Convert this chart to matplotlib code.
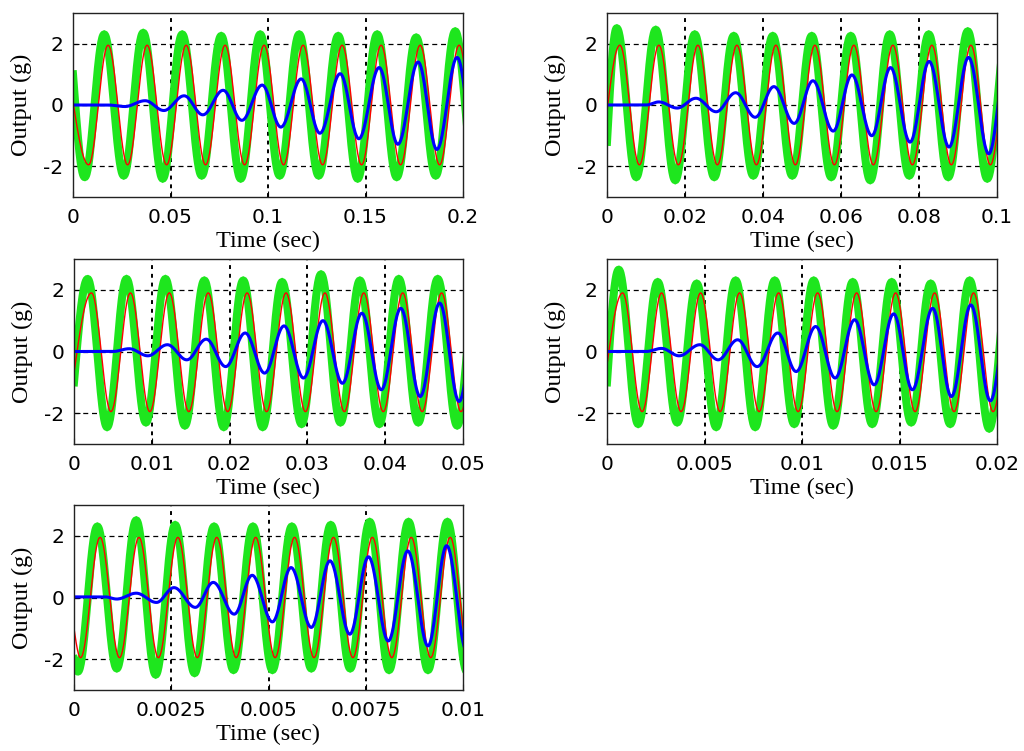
import numpy as np
import matplotlib.pyplot as plt

# window length of each panel (sec); each window holds ten periods
XMAX = [0.2, 0.1, 0.05, 0.02, 0.01]
XTICKS = [
    [0, 0.05, 0.1, 0.15, 0.2],
    [0, 0.02, 0.04, 0.06, 0.08, 0.1],
    [0, 0.01, 0.02, 0.03, 0.04, 0.05],
    [0, 0.005, 0.01, 0.015, 0.02],
    [0, 0.0025, 0.005, 0.0075, 0.01],
]
XTICKLABELS = [
    ['0', '0.05', '0.1', '0.15', '0.2'],
    ['0', '0.02', '0.04', '0.06', '0.08', '0.1'],
    ['0', '0.01', '0.02', '0.03', '0.04', '0.05'],
    ['0', '0.005', '0.01', '0.015', '0.02'],
    ['0', '0.0025', '0.005', '0.0075', '0.01'],
]
YTICKS = [-2, 0, 2]

# extrema of each trace, time in periods (window = 10 periods), value in g
RED1_T = [0, 0.4, 0.9, 1.4, 1.9, 2.4, 2.9, 3.4, 3.9, 4.4, 4.9, 5.4, 5.9, 6.4, 6.9, 7.4, 7.9, 8.4, 8.9, 9.4, 9.9, 10.4]
RED1_V = [0.1, -1.95, 1.95, -1.95, 1.95, -1.95, 1.95, -1.95, 1.95, -1.95, 1.95, -1.95, 1.95, -1.95, 1.95, -1.95, 1.95, -1.95, 1.95, -1.95, 1.95, -1.95]
GREEN1_T = [0, 0.3, 0.8, 1.3, 1.8, 2.3, 2.8, 3.3, 3.8, 4.3, 4.8, 5.3, 5.8, 6.3, 6.8, 7.3, 7.8, 8.3, 8.8, 9.3, 9.8, 10.3]
GREEN1_V = [1.0, -2.35, 2.3, -2.3, 2.35, -2.4, 2.3, -2.3, 2.25, -2.4, 2.3, -2.3, 2.3, -2.3, 2.25, -2.4, 2.3, -2.35, 2.2, -2.3, 2.4, -2.3]
BLUE1_T = [0, 0.9, 1.33, 1.85, 2.33, 2.85, 3.33, 3.85, 4.33, 4.85, 5.33, 5.85, 6.33, 6.85, 7.33, 7.85, 8.33, 8.85, 9.33, 9.85, 10.33]
BLUE1_V = [0, 0, -0.05, 0.14, -0.18, 0.3, -0.32, 0.48, -0.5, 0.65, -0.72, 0.85, -0.92, 1.02, -1.1, 1.22, -1.28, 1.4, -1.45, 1.55, -1.6]

RED2_T = [0, 0.33, 0.83, 1.33, 1.83, 2.33, 2.83, 3.33, 3.83, 4.33, 4.83, 5.33, 5.83, 6.33, 6.83, 7.33, 7.83, 8.33, 8.83, 9.33, 9.83, 10.33]
RED2_V = [-0.2, 1.95, -1.95, 1.95, -1.95, 1.95, -1.95, 1.95, -1.95, 1.95, -1.95, 1.95, -1.95, 1.95, -1.95, 1.95, -1.95, 1.95, -1.95, 1.95, -1.95, 1.95]
GREEN2_T = [0, 0.25, 0.75, 1.25, 1.75, 2.25, 2.75, 3.25, 3.75, 4.25, 4.75, 5.25, 5.75, 6.25, 6.75, 7.25, 7.75, 8.25, 8.75, 9.25, 9.75, 10.25]
GREEN2_V = [-1.2, 2.5, -2.35, 2.45, -2.45, 2.3, -2.35, 2.25, -2.3, 2.25, -2.3, 2.25, -2.35, 2.25, -2.45, 2.3, -2.3, 2.3, -2.35, 2.4, -2.4, 2.3]
BLUE2_T = [0, 1.0, 1.33, 1.8, 2.28, 2.8, 3.3, 3.8, 4.28, 4.8, 5.28, 5.8, 6.28, 6.79, 7.27, 7.77, 8.26, 8.77, 9.27, 9.79, 10.27]
BLUE2_V = [0, 0, 0.1, -0.1, 0.22, -0.22, 0.4, -0.4, 0.6, -0.6, 0.79, -0.85, 0.98, -1.0, 1.22, -1.21, 1.42, -1.37, 1.55, -1.59, 1.7]

RED3_T = [0, 0.45, 0.95, 1.45, 1.95, 2.45, 2.95, 3.45, 3.95, 4.45, 4.95, 5.45, 5.95, 6.45, 6.95, 7.45, 7.95, 8.45, 8.95, 9.45, 9.95, 10.45]
RED3_V = [-0.7, 1.9, -1.95, 1.9, -1.95, 1.9, -1.95, 1.9, -1.95, 1.9, -1.95, 1.9, -1.95, 1.9, -1.95, 1.9, -1.95, 1.9, -1.95, 1.9, -1.95, 1.9]
GREEN3_T = [0, 0.35, 0.85, 1.35, 1.85, 2.35, 2.85, 3.35, 3.85, 4.35, 4.85, 5.35, 5.85, 6.35, 6.85, 7.35, 7.85, 8.35, 8.85, 9.35, 9.85, 10.35]
GREEN3_V = [-1.0, 2.35, -2.45, 2.35, -2.3, 2.35, -2.4, 2.3, -2.45, 2.3, -2.45, 2.25, -2.35, 2.5, -2.3, 2.3, -2.35, 2.35, -2.3, 2.35, -2.4, 2.3]
BLUE3_T = [0, 1.0, 1.42, 1.9, 2.4, 2.9, 3.4, 3.9, 4.4, 4.9, 5.4, 5.9, 6.4, 6.9, 7.4, 7.9, 8.4, 8.9, 9.4, 9.9, 10.4]
BLUE3_V = [0, 0, 0.09, -0.14, 0.22, -0.27, 0.4, -0.49, 0.6, -0.7, 0.83, -0.86, 1.0, -1.03, 1.24, -1.24, 1.4, -1.46, 1.57, -1.62, 1.7]

RED4_T = [0, 0.4, 0.9, 1.4, 1.9, 2.4, 2.9, 3.4, 3.9, 4.4, 4.9, 5.4, 5.9, 6.4, 6.9, 7.4, 7.9, 8.4, 8.9, 9.4, 9.9, 10.4]
RED4_V = [-0.43, 1.9, -1.95, 1.9, -1.95, 1.9, -1.95, 1.9, -1.95, 1.9, -1.95, 1.9, -1.95, 1.9, -1.95, 1.9, -1.95, 1.9, -1.95, 1.9, -1.95, 1.9]
GREEN4_T = [0, 0.3, 0.8, 1.3, 1.8, 2.3, 2.8, 3.3, 3.8, 4.3, 4.8, 5.3, 5.8, 6.3, 6.8, 7.3, 7.8, 8.3, 8.8, 9.3, 9.8, 10.3]
GREEN4_V = [-1.0, 2.65, -2.35, 2.25, -2.3, 2.2, -2.45, 2.3, -2.45, 2.3, -2.35, 2.3, -2.4, 2.25, -2.35, 2.25, -2.3, 2.2, -2.35, 2.3, -2.5, 2.3]
BLUE4_T = [0, 1.0, 1.4, 1.85, 2.38, 2.85, 3.35, 3.85, 4.38, 4.85, 5.35, 5.85, 6.35, 6.85, 7.35, 7.83, 8.35, 8.83, 9.33, 9.83, 10.33]
BLUE4_V = [0, 0, 0.1, -0.14, 0.22, -0.27, 0.38, -0.49, 0.6, -0.65, 0.81, -0.86, 1.03, -1.08, 1.22, -1.24, 1.4, -1.46, 1.51, -1.6, 1.7]

RED5_T = [0, 0.17, 0.67, 1.17, 1.67, 2.17, 2.67, 3.17, 3.67, 4.17, 4.67, 5.17, 5.67, 6.17, 6.67, 7.17, 7.67, 8.17, 8.67, 9.17, 9.67, 10.17]
RED5_V = [-1.0, -1.95, 1.95, -1.95, 1.95, -1.95, 1.95, -1.95, 1.95, -1.95, 1.95, -1.95, 1.95, -1.95, 1.95, -1.95, 1.95, -1.95, 1.95, -1.95, 1.95, -1.95]
GREEN5_T = [0, 0.1, 0.6, 1.1, 1.6, 2.1, 2.6, 3.1, 3.6, 4.1, 4.6, 5.1, 5.6, 6.1, 6.6, 7.1, 7.6, 8.1, 8.6, 9.1, 9.6, 10.1]
GREEN5_V = [-2.0, -2.4, 2.3, -2.3, 2.5, -2.5, 2.35, -2.45, 2.3, -2.35, 2.3, -2.35, 2.3, -2.3, 2.35, -2.3, 2.45, -2.35, 2.45, -2.35, 2.45, -2.4]
BLUE5_T = [0, 0.8, 1.1, 1.6, 2.12, 2.57, 3.12, 3.58, 4.12, 4.58, 5.1, 5.58, 6.1, 6.58, 7.09, 7.57, 8.08, 8.58, 9.1, 9.58, 10.1]
BLUE5_V = [0.02, 0.02, -0.05, 0.14, -0.16, 0.32, -0.32, 0.49, -0.54, 0.72, -0.79, 0.97, -0.97, 1.19, -1.19, 1.32, -1.41, 1.51, -1.57, 1.68, -1.75]

RED_T = [RED1_T, RED2_T, RED3_T, RED4_T, RED5_T]
RED_V = [RED1_V, RED2_V, RED3_V, RED4_V, RED5_V]
GREEN_T = [GREEN1_T, GREEN2_T, GREEN3_T, GREEN4_T, GREEN5_T]
GREEN_V = [GREEN1_V, GREEN2_V, GREEN3_V, GREEN4_V, GREEN5_V]
BLUE_T = [BLUE1_T, BLUE2_T, BLUE3_T, BLUE4_T, BLUE5_T]
BLUE_V = [BLUE1_V, BLUE2_V, BLUE3_V, BLUE4_V, BLUE5_V]


def trace(t_ext, v_ext, period, n=40):
    """join extrema with smooth half-wave segments"""
    xs, ys = [], []
    for i in range(len(t_ext) - 1):
        s = np.linspace(0, 1, n, endpoint=False)
        if i == 0:
            shape = np.sin(np.pi * s / 2)
        else:
            shape = (1 - np.cos(np.pi * s)) / 2
        xs.append(t_ext[i] + (t_ext[i + 1] - t_ext[i]) * s)
        ys.append(v_ext[i] + (v_ext[i + 1] - v_ext[i]) * shape)
    xs.append([t_ext[-1]])
    ys.append([v_ext[-1]])
    return np.concatenate(xs) * period, np.concatenate(ys)


# axes boxes in pixels: left, top, right, bottom
BOXES = [(73, 13, 463, 197), (607, 13, 997, 197),
         (74, 259, 463, 444), (607, 259, 997, 444),
         (74, 505, 463, 690)]
W, H = 1024, 751

fig = plt.figure(figsize=(W / 100, H / 100), dpi=100)

for i in range(5):
    l, t, r, b = BOXES[i]
    ax = fig.add_axes([l / W, 1 - b / H, (r - l) / W, (b - t) / H])
    period = XMAX[i] / 10

    x, y = trace(GREEN_T[i], GREEN_V[i], period)
    ax.plot(x, y, color='#1ee61e', lw=5.8, solid_joinstyle='miter')
    x, y = trace(RED_T[i], RED_V[i], period)
    ax.plot(x, y, color='#ff0000', lw=1.0)
    x, y = trace(BLUE_T[i], BLUE_V[i], period)
    ax.plot(x, y, color='#0000ff', lw=2.2)

    ax.set_xlim(0, XMAX[i])
    ax.set_ylim(-3, 3)
    ax.set_xticks(XTICKS[i])
    ax.set_xticklabels(XTICKLABELS[i])
    ax.set_yticks(YTICKS)
    ax.set_yticklabels(['-2', '0', '2'])

    # matlab style grid
    for xv in XTICKS[i][1:-1]:
        ax.axvline(xv, color='black', lw=1.4, ls=(0, (2, 2.5)), zorder=0.5)
    for yv in YTICKS:
        ax.axhline(yv, color='black', lw=0.9, ls=(0, (4, 3)), zorder=0.5)

    ax.tick_params(direction='in', length=4, width=0.8, labelsize=14.5)
    ax.tick_params(axis='x', pad=8)
    ax.tick_params(axis='y', pad=7)
    for sp in ax.spines.values():
        sp.set_linewidth(1.0)
        sp.set_color('#222222')

    ax.set_xlabel('Time (sec)', family='Liberation Serif', fontsize=17.5)
    ax.set_ylabel('Output (g)', family='Liberation Serif', fontsize=17.5)
    ax.xaxis.set_label_coords(0.5, -0.185)
    ax.yaxis.set_label_coords(-0.105, 0.5)

fig.savefig('out.png', dpi=100)
